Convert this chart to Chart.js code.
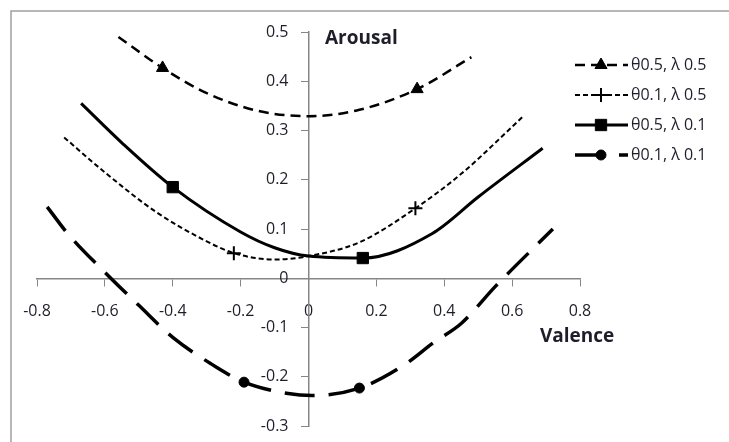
<!DOCTYPE html>
<html>
<head>
<meta charset="utf-8">
<script src="https://cdn.jsdelivr.net/npm/chart.js@4"></script>
<style>
body{margin:0;background:#fff;}
</style>
</head>
<body>
<canvas id="chart" width="729" height="442"></canvas>
<script>
// θ0.5, λ0.5 - dashed with triangles
var xA = [-0.56, -0.43, -0.3, -0.15, 0, 0.15, 0.32, 0.48];
var yA = [0.49, 0.427, 0.376, 0.34, 0.329, 0.342, 0.384, 0.449];
var markA = [1, 6];
// θ0.1, λ0.5 - short dash with crosses
var xB = [-0.72, -0.6, -0.45, -0.3, -0.22, -0.1, 0, 0.15, 0.315, 0.45, 0.63];
var yB = [0.286, 0.215, 0.135, 0.075, 0.051, 0.038, 0.045, 0.073, 0.142, 0.212, 0.327];
var markB = [4, 8];
// θ0.5, λ0.1 - solid with squares
var xC = [-0.67, -0.55, -0.4, -0.2, -0.1, 0, 0.16, 0.365, 0.5, 0.69];
var yC = [0.355, 0.275, 0.185, 0.094, 0.062, 0.045, 0.041, 0.091, 0.165, 0.264];
var markC = [2, 6];
// θ0.1, λ0.1 - long dash with circles
var xD = [-0.77, -0.71, -0.6, -0.5, -0.4, -0.27, -0.19, -0.06, 0.01, 0.15, 0.28, 0.37, 0.45, 0.55, 0.72];
var yD = [0.145, 0.091, 0.012, -0.055, -0.12, -0.181, -0.211, -0.234, -0.238, -0.223, -0.177, -0.13, -0.092, -0.017, 0.1];
var markD = [6, 9];

var names = ["θ0.5, λ 0.5", "θ0.1, λ 0.5", "θ0.5, λ 0.1", "θ0.1, λ 0.1"];
var xTicks = [-0.8, -0.6, -0.4, -0.2, 0, 0.2, 0.4, 0.6, 0.8];
var yTicks = [-0.3, -0.2, -0.1, 0, 0.1, 0.2, 0.3, 0.4, 0.5];

var FONT = "'Open Sans', sans-serif";
var TEXT = "#1e1e2a";

function pts(xs, ys) {
    return xs.map(function (x, i) { return { x: x, y: ys[i] }; });
}
function radii(n, marks, r) {
    var out = [];
    for (var i = 0; i < n; i++) out.push(marks.indexOf(i) >= 0 ? r : 0);
    return out;
}
function fmt(v) { return String(Math.round(v * 10) / 10); }
function makeSet(label, xs, ys, marks, style, r, width, dash) {
    return {
        label: label,
        data: pts(xs, ys),
        showLine: true,
        borderColor: "#000",
        backgroundColor: "#000",
        borderWidth: width,
        borderDash: dash,
        cubicInterpolationMode: "monotone",
        pointStyle: style,
        pointRadius: radii(xs.length, marks, r),
        pointBorderWidth: style == "cross" ? 2 : 1,
        pointBorderColor: "#000",
        pointBackgroundColor: "#000"
    };
}

var datasets = [
    makeSet(names[0], xA, yA, markA, "triangle", 7, 2.5, [10, 6]),
    makeSet(names[1], xB, yB, markB, "cross", 7, 2, [5, 3]),
    makeSet(names[2], xC, yC, markC, "rect", 8, 3, []),
    makeSet(names[3], xD, yD, markD, "circle", 5, 3.5, [30, 14])
];

var extras = {
    id: "extras",
    beforeDraw: function (chart) {
        var ctx = chart.ctx;
        ctx.save();
        ctx.strokeStyle = "#a0a0a0";
        ctx.lineWidth = 1.5;
        ctx.strokeRect(11, 11, 800, 500);
        ctx.restore();
    },
    afterDraw: function (chart) {
        var ctx = chart.ctx;
        var sx = chart.scales.x, sy = chart.scales.y;
        ctx.save();
        // y tick labels (left of the crossing axis)
        ctx.fillStyle = TEXT;
        ctx.font = "16px " + FONT;
        ctx.textAlign = "right";
        ctx.textBaseline = "middle";
        var ax = sx.getPixelForValue(0);
        yTicks.forEach(function (v) {
            ctx.fillText(fmt(v), ax - 20, sy.getPixelForValue(v));
        });

        ctx.font = "bold 19px " + FONT;
        ctx.textAlign = "left";
        ctx.fillText("Arousal", 325, 39);
        ctx.fillText("Valence", 540, 337);

        // legend
        var rows = [65, 95, 125, 155];
        chart.data.datasets.forEach(function (ds, i) {
            var y = rows[i];
            ctx.strokeStyle = "#000";
            ctx.lineWidth = ds.borderWidth;
            ctx.setLineDash(ds.borderDash);
            ctx.beginPath();
            ctx.moveTo(575, y);
            ctx.lineTo(628, y);
            ctx.stroke();
            ctx.setLineDash([]);
            ctx.fillStyle = "#000";
            ctx.lineWidth = ds.pointBorderWidth;
            var r = Math.max.apply(null, ds.pointRadius);
            Chart.helpers.drawPoint(ctx, { pointStyle: ds.pointStyle, radius: r, rotation: 0, borderWidth: ds.pointBorderWidth }, 601, y);
            ctx.fillStyle = TEXT;
            ctx.font = "16px " + FONT;
            ctx.fillText(ds.label, 631, y);
        });
        ctx.restore();
    }
};

new Chart(document.getElementById("chart"), {
    type: "scatter",
    data: { datasets: datasets },
    options: {
        responsive: false,
        animation: false,
        devicePixelRatio: 1,
        layout: { padding: { left: 37, right: 149, top: 32, bottom: 16 } },
        plugins: { legend: { display: false }, tooltip: { enabled: false } },
        scales: {
            x: {
                type: "linear",
                min: -0.8, max: 0.8,
                position: { y: 0 },
                afterBuildTicks: function (s) { s.ticks = xTicks.map(function (v) { return { value: v }; }); },
                grid: { drawOnChartArea: false, drawTicks: true, tickLength: 7, color: "#868686" },
                border: { color: "#868686", width: 1.5 },
                ticks: { font: { family: FONT, size: 16 }, color: TEXT, padding: 17, maxRotation: 0,
                    callback: fmt }
            },
            y: {
                type: "linear",
                min: -0.3, max: 0.5,
                position: { x: 0 },
                afterBuildTicks: function (s) { s.ticks = yTicks.map(function (v) { return { value: v }; }); },
                grid: { drawOnChartArea: false, drawTicks: true, tickLength: 7, color: "#868686" },
                border: { color: "#868686", width: 1.5 },
                ticks: { display: false }
            }
        }
    },
    plugins: [extras]
});
</script>
</body>
</html>
